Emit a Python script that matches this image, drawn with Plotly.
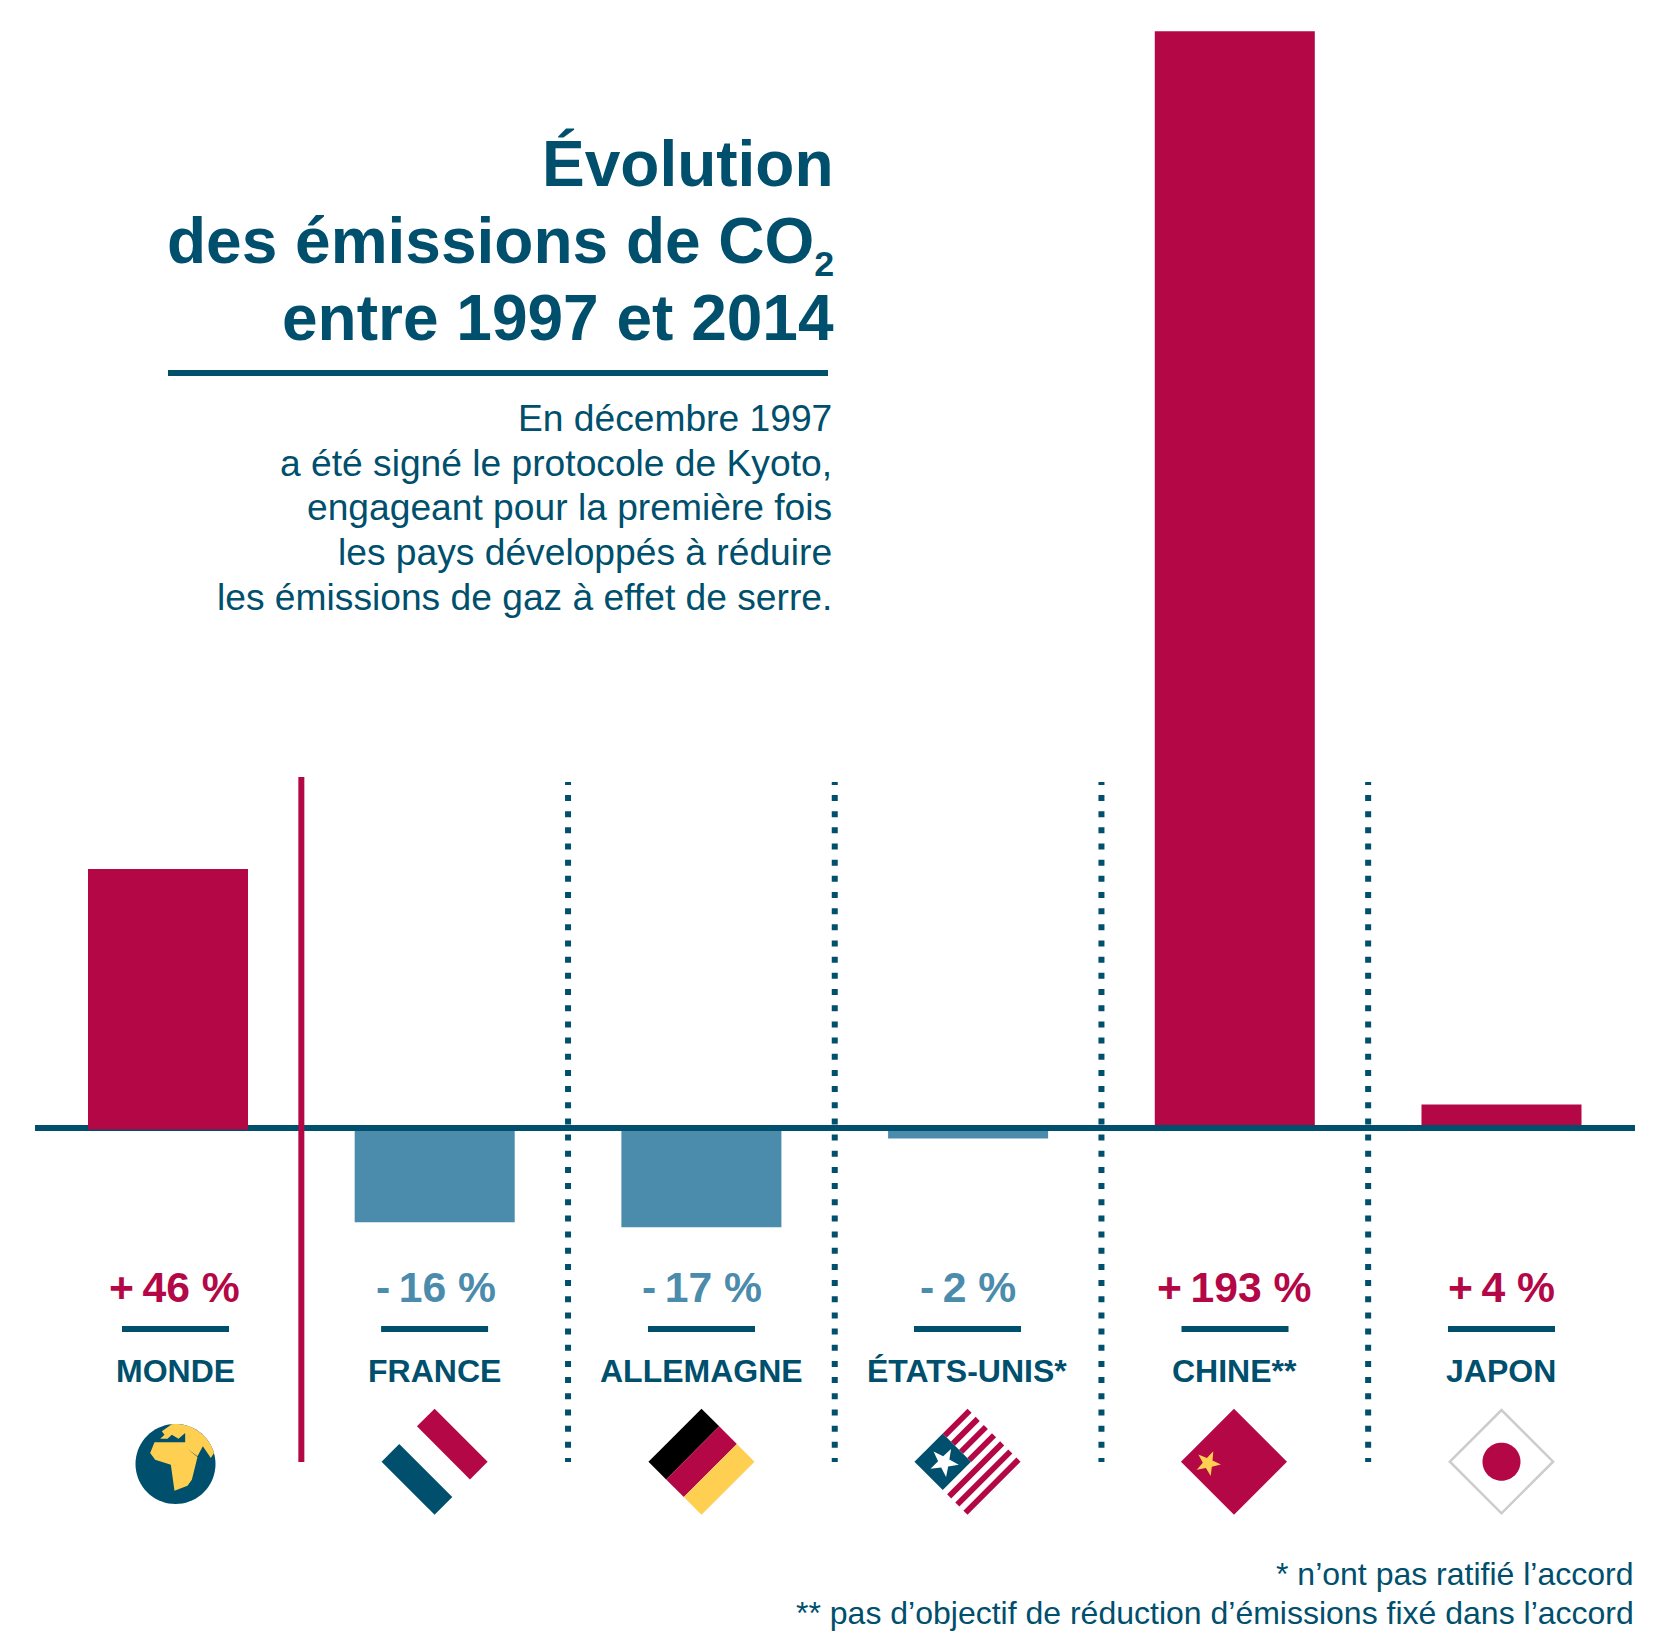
import math
import plotly.graph_objects as go

W, H = 1672, 1642
RED, NAVY, BLUE, YEL = "#b40746", "#004f6d", "#4b8bac", "#ffcf52"
FONT = "Liberation Sans"

categories = ["MONDE", "FRANCE", "ALLEMAGNE", "ÉTATS-UNIS*", "CHINE**", "JAPON"]
values = [45.8, -16.3, -17.2, -1.6, 193, 4.4]
pct_labels = ["+\u200946 %", "-\u200916 %", "-\u200917 %", "-\u20092 %", "+\u2009193 %", "+\u20094 %"]
title_lines = ["Évolution", "des émissions de CO<sub><span style='font-size:80%'>2</span></sub>", "entre 1997 et 2014"]
body_lines = ["En décembre 1997", "a été signé le protocole de Kyoto,", "engageant pour la première fois",
              "les pays développés à réduire", "les émissions de gaz à effet de serre."]
foot_lines = ["* n’ont pas ratifié l’accord", "** pas d’objectif de réduction d’émissions fixé dans l’accord"]

# scales: pixel geometry of the plot
X0, DX, Y0, K = 168, 266.7, 1129.5, 5.69
xr = [-X0 / DX, (W - X0) / DX]
yr = [(Y0 - H) / K, Y0 / K]
pos = list(range(len(categories)))
label_px = [175.5, 434.6, 701.5, 967.5, 1235, 1501.5]


def X(p): return p / W
def Y(p): return 1 - p / H


fig = go.Figure(go.Bar(
    x=pos, y=values, width=0.6,
    marker=dict(color=[RED if v > 0 else BLUE for v in values], line_width=0),
    hoverinfo="x+y",
))

shapes, ann = [], []


def text(t, x, py, size, color, bold=False, anchor="center", xref="paper"):
    ann.append(dict(text=f"<b>{t}</b>" if bold else t, x=x, y=Y(py), xref=xref, yref="paper",
                    xanchor=anchor, yanchor="middle", showarrow=False, borderpad=0,
                    font=dict(family=FONT, size=size, color=color)))


def poly(pts, fill, lw=0, lc=None):
    d = "M" + "L".join(f"{X(a):.6f},{Y(b):.6f}" for a, b in pts) + "Z"
    shapes.append(dict(type="path", path=d, xref="paper", yref="paper", fillcolor=fill,
                       line=dict(width=lw, color=lc or fill), layer="above"))


def rot(cx, cy, u, v):
    s = math.sqrt(.5)
    return (cx + (u + v) * s, cy + (v - u) * s)


def band(cx, cy, u0, u1, v0, v1, fill):
    poly([rot(cx, cy, u0, v0), rot(cx, cy, u1, v0), rot(cx, cy, u1, v1), rot(cx, cy, u0, v1)], fill)


def star(cx, cy, r, deg, fill):
    pts = []
    for i in range(10):
        a = math.radians(deg + 36 * i)
        rr = r if i % 2 == 0 else r * .4
        pts.append((cx + rr * math.sin(a), cy - rr * math.cos(a)))
    poly(pts, fill)


def circle(cx, cy, r, fill):
    poly([(cx + r * math.cos(i * math.pi / 36), cy + r * math.sin(i * math.pi / 36)) for i in range(72)], fill)


# baseline: runs under the MONDE bar, over all the others
shapes.append(dict(type="line", xref="paper", yref="paper", x0=X(35), x1=X(1635), y0=Y(1128), y1=Y(1128),
                   line=dict(color=NAVY, width=6), layer="below"))
shapes.append(dict(type="line", xref="paper", yref="paper", x0=X(248), x1=X(1635), y0=Y(1128), y1=Y(1128),
                   line=dict(color=NAVY, width=6), layer="above"))
# separators
shapes.append(dict(type="line", xref="x", yref="paper", x0=.5, x1=.5, y0=Y(777), y1=Y(1462),
                   line=dict(color=RED, width=6), layer="above"))
for i in range(1, 5):
    shapes.append(dict(type="line", xref="x", yref="paper", x0=i + .5, x1=i + .5, y0=Y(782), y1=Y(785),
                       line=dict(color=NAVY, width=6), layer="above"))
    shapes.append(dict(type="line", xref="x", yref="paper", x0=i + .5, x1=i + .5, y0=Y(795), y1=Y(1462),
                       line=dict(color=NAVY, width=6, dash="6px,10.17px"), layer="above"))
# title rule
shapes.append(dict(type="line", xref="paper", yref="paper", x0=X(168), x1=X(828), y0=Y(373), y1=Y(373),
                   line=dict(color=NAVY, width=6), layer="above"))

for t, py in zip(title_lines, [163.5, 245, 318]):
    text(t, X(834.5), py, 64, NAVY, True, "right")
for t, py in zip(body_lines, [418, 463, 507, 552, 597]):
    text(t, X(833), py, 37.2, NAVY, False, "right")
for t, py in zip(foot_lines, [1574, 1613]):
    text(t, X(1635), py, 32, NAVY, False, "right")

pct_px = [174.5, 435.6, 701.5, 967.5, 1234.5, 1501.5]
for lp, tp, c, p, v in zip(label_px, pct_px, categories, pct_labels, values):
    text(p, X(tp), 1287, 42.7, RED if v > 0 else BLUE, True)
    text(c, X(lp - 0.5), 1370.5, 32, NAVY, True)
    shapes.append(dict(type="line", xref="paper", yref="paper", x0=X(lp - 53.5), x1=X(lp + 53.5), y0=Y(1329), y1=Y(1329),
                       line=dict(color=NAVY, width=6), layer="above"))

FY = 1461.7
A = 37.5
# globe
gx, gy, gr = 175.5, 1464, 40
circle(gx, gy, gr, NAVY)
land = [(155, 95)]
a0, a1 = math.atan2(75 - 193, 185 - 196), math.atan2(160 - 193, 312 - 196)
for i in range(21):
    a = a0 + (a1 - a0) * i / 20
    land.append((196 + 120 * math.cos(a), 193 + 120 * math.sin(a)))
land += [(302, 175), (278, 140), (262, 170), (232, 148), (262, 172), (245, 240), (232, 258), (193, 273),
         (182, 195), (135, 180), (120, 160), (133, 128), (225, 128), (225, 100), (205, 117), (185, 105),
         (172, 117), (150, 117), (163, 105)]
poly([(gx + (a - 196) / 3, gy + (b - 193) / 3) for a, b in land], YEL)

# France
cx = label_px[1]
band(cx, FY, -A, -A / 3, -A, A, NAVY)
band(cx, FY, A / 3, A, -A, A, RED)
# Germany
cx = label_px[2]
band(cx, FY, -A, A, -A, -A / 3, "#000000")
band(cx, FY, -A, A, -A / 3, A / 3, RED)
band(cx, FY, -A, A, A / 3, A, YEL)
# USA
cx = label_px[3]
w = 2 * A / 13
for i in range(7):
    v0 = -A + 2 * i * w
    band(cx, FY, 2.5 if i < 4 else -A, A, v0, v0 + w, RED)
band(cx, FY, -A, 2.5, -A, 2.5, NAVY)
star(cx - 23.5, FY + 0.5, 15, 28, "#ffffff")
# China
cx = label_px[4] - 1
band(cx, FY, -A, A, -A, A, RED)
star(cx - 26, FY + 1.5, 13, 24, YEL)
# Japan
cx = label_px[5]
poly([rot(cx, FY, -36.5, -36.5), rot(cx, FY, 36.5, -36.5), rot(cx, FY, 36.5, 36.5), rot(cx, FY, -36.5, 36.5)],
     "#ffffff", 2.5, "#cccccc")
circle(cx, FY, 19, RED)

fig.update_layout(
    width=W, height=H, margin=dict(l=0, r=0, t=0, b=0), autosize=False,
    paper_bgcolor="white", plot_bgcolor="white", showlegend=False,
    xaxis=dict(range=xr, visible=False, fixedrange=True),
    yaxis=dict(range=yr, visible=False, fixedrange=True),
    shapes=shapes, annotations=ann,
)
fig.write_html("out.html", config={"displayModeBar": False},
               post_script="document.body.style.margin='0';document.documentElement.style.overflow='hidden';")
